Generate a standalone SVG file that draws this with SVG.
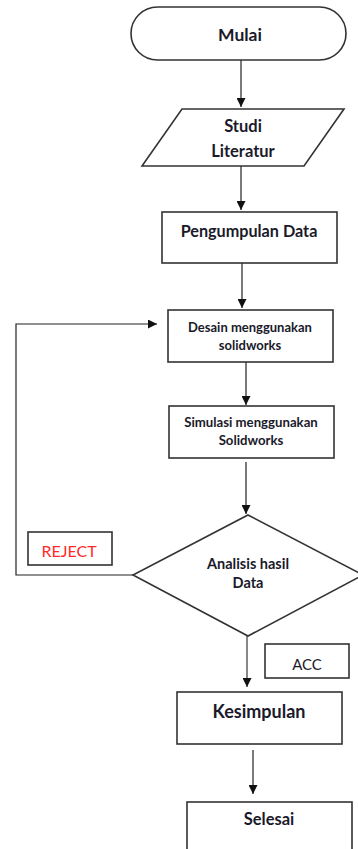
<svg xmlns="http://www.w3.org/2000/svg" width="358" height="849" viewBox="0 0 358 849">
<style>
.s{fill:#fff;stroke:#333;stroke-width:1.6}
.t{font-family:Lato,"Open Sans",sans-serif;font-weight:bold;fill:#1a1a2a;text-anchor:middle}
.c{fill:none;stroke:#222;stroke-width:1.2}
</style>
<defs>
<marker id="ah" markerWidth="9" markerHeight="9" refX="9" refY="4.5" orient="auto" markerUnits="userSpaceOnUse">
<path d="M0,0 L9,4.5 L0,9 z" fill="#111"/>
</marker>
</defs>
<g id="connectors">
<line class="c" x1="241" y1="60" x2="241" y2="107" marker-end="url(#ah)"/>
<line class="c" x1="241" y1="166" x2="241" y2="210" marker-end="url(#ah)"/>
<line class="c" x1="242" y1="263" x2="242" y2="308" marker-end="url(#ah)"/>
<line class="c" x1="246" y1="362" x2="246" y2="405" marker-end="url(#ah)"/>
<line class="c" x1="246" y1="462" x2="246" y2="514" marker-end="url(#ah)"/>
<polyline class="c" points="133,575 16,575 16,324 157,324" marker-end="url(#ah)"/>
<line x1="247" y1="636" x2="247" y2="687" stroke="#888" stroke-width="2" marker-end="url(#ah)"/>
<line class="c" x1="253" y1="750" x2="253" y2="794" marker-end="url(#ah)"/>
</g>
<g id="mulai">
<rect class="s" x="131" y="7" width="215" height="53" rx="26.5"/>
<text class="t" x="240" y="41" font-size="17.5">Mulai</text>
</g>
<g id="studi">
<polygon class="s" points="182,109 344,109 304,166 142,166"/>
<text class="t" x="243" y="132" font-size="16.5">Studi</text>
<text class="t" x="243" y="157" font-size="16.5">Literatur</text>
</g>
<g id="pengumpulan">
<rect class="s" x="162" y="212" width="175" height="51"/>
<text class="t" x="249" y="237" font-size="16.2">Pengumpulan Data</text>
</g>
<g id="desain">
<rect class="s" x="168" y="310" width="165" height="52"/>
<text class="t" x="250" y="332" font-size="13">Desain menggunakan</text>
<text class="t" x="250" y="350" font-size="13">solidworks</text>
</g>
<g id="simulasi">
<rect class="s" x="169" y="406" width="165" height="52"/>
<text class="t" x="251" y="427" font-size="13.2">Simulasi menggunakan</text>
<text class="t" x="251" y="445" font-size="13.2">Solidworks</text>
</g>
<g id="analisis">
<polygon class="s" points="248,515 363,575 248,636 133,575"/>
<text class="t" x="248" y="569" font-size="14.5">Analisis hasil</text>
<text class="t" x="248" y="588" font-size="14.5">Data</text>
</g>
<g id="reject">
<rect class="s" x="28" y="532" width="84" height="33"/>
<text x="69" y="557" font-family="Lato,'Open Sans',sans-serif" font-size="16" fill="#ff2a2a" text-anchor="middle">REJECT</text>
</g>
<g id="acc">
<rect class="s" x="265" y="644" width="84" height="34"/>
<text x="307" y="670" font-family="Lato,'Open Sans',sans-serif" font-size="15" fill="#1a1a2a" text-anchor="middle">ACC</text>
</g>
<g id="kesimpulan">
<rect class="s" x="177" y="692" width="165" height="52"/>
<text class="t" x="259" y="718" font-size="18">Kesimpulan</text>
</g>
<g id="selesai">
<rect class="s" x="187" y="802" width="165" height="60"/>
<text class="t" x="269" y="825" font-size="16.5">Selesai</text>
</g>
</svg>
